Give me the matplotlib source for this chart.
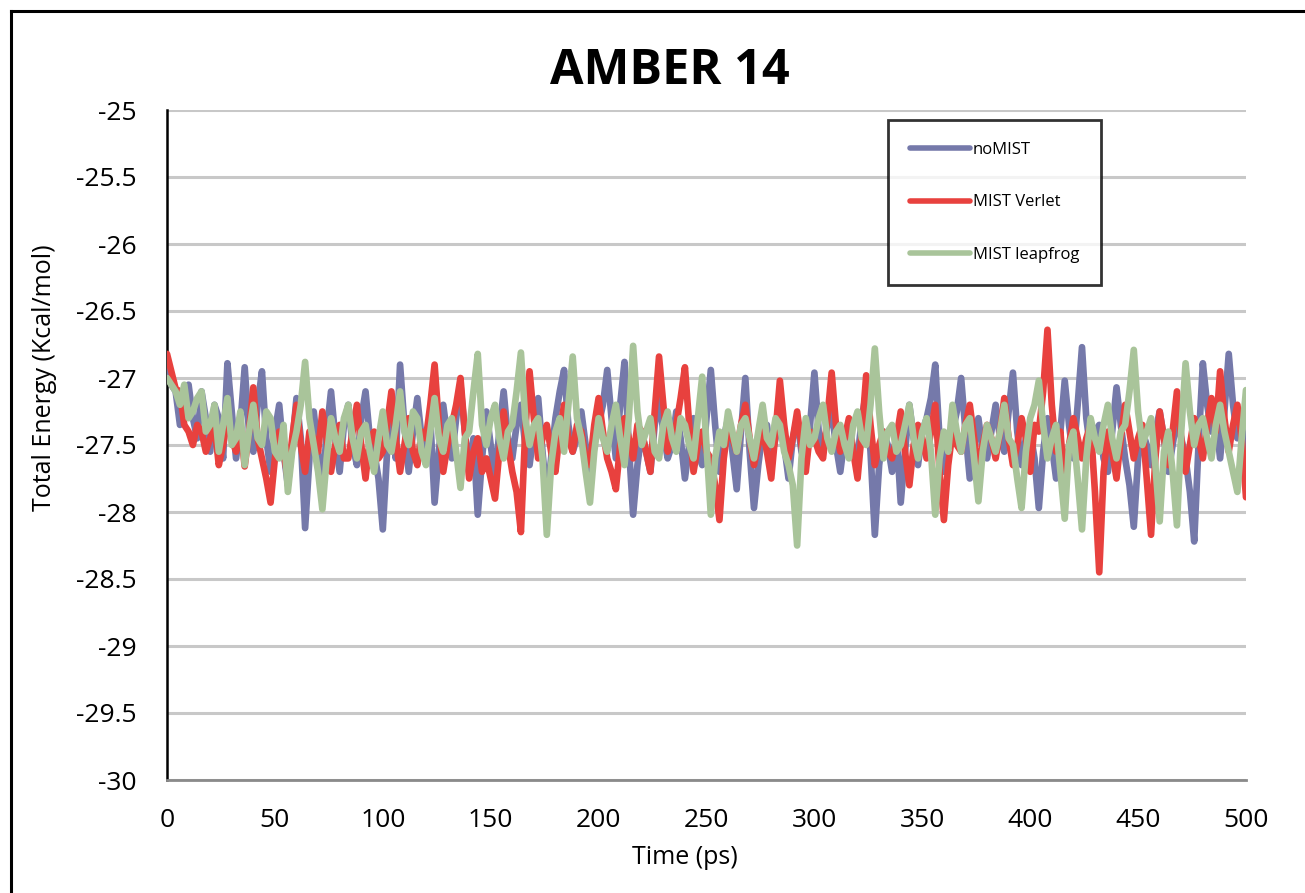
import numpy as np
import matplotlib
matplotlib.use("Agg")
import matplotlib.pyplot as plt
from matplotlib.lines import Line2D

plt.rcParams['font.family'] = ['Open Sans', 'DejaVu Sans']

# ---------------- data ----------------
title = "AMBER 14"
xlabel = "Time (ps)"
ylabel = "Total Energy (Kcal/mol)"
series_names = ["noMIST", "MIST Verlet", "MIST leapfrog"]
series_colors = ["#7579aa", "#e8413e", "#a9c49a"]

time_ps = np.arange(0, 501, 2)

nomist = [
    -26.85, -27.05, -27.10, -27.35, -27.15, -27.05, -27.30, -27.45, -27.10, -27.30,
    -27.55, -27.20, -27.30, -27.60, -26.89, -27.25, -27.60, -27.35, -26.92, -27.40,
    -27.55, -27.20, -26.95, -27.45, -27.70, -27.40, -27.20, -27.55, -27.80, -27.50,
    -27.15, -27.45, -28.12, -27.60, -27.25, -27.55, -27.85, -27.40, -27.10, -27.45,
    -27.70, -27.35, -27.20, -27.50, -27.65, -27.30, -27.10, -27.45, -27.55, -27.75,
    -28.13, -27.55, -27.30, -27.60, -26.90, -27.35, -27.70, -27.40, -27.15, -27.45,
    -27.60, -27.30, -27.93, -27.55, -27.20, -27.45, -27.60, -27.30, -27.05, -27.40,
    -27.70, -27.45, -28.02, -27.60, -27.25, -27.50, -27.75, -27.40, -27.10, -27.45,
    -27.60, -27.35, -27.20, -27.50, -27.65, -27.40, -27.15, -27.55, -27.90, -27.60,
    -27.30, -27.10, -26.94, -27.35, -27.55, -27.45, -27.25, -27.50, -27.70, -27.45,
    -27.35, -27.20, -26.94, -27.30, -27.60, -27.20, -26.88, -27.50, -28.02, -27.65,
    -27.40, -27.55, -27.70, -27.35, -27.15, -27.40, -27.60, -27.50, -27.25, -27.45,
    -27.75, -27.50, -27.30, -27.55, -27.65, -27.30, -26.94, -27.35, -27.70, -27.45,
    -27.30, -27.55, -27.83, -27.40, -27.00, -27.55, -27.97, -27.65, -27.40, -27.35,
    -27.60, -27.45, -27.20, -27.50, -27.75, -27.45, -27.30, -27.55, -27.65, -27.35,
    -26.96, -27.40, -27.55, -27.35, -27.25, -27.50, -27.70, -27.45, -27.35, -27.55,
    -27.60, -27.30, -27.10, -27.55, -28.17, -27.65, -27.40, -27.50, -27.70, -27.40,
    -27.93, -27.55, -27.20, -27.45, -27.65, -27.40, -27.30, -27.15, -26.90, -27.45,
    -27.70, -27.50, -27.40, -27.25, -27.00, -27.40, -27.75, -27.50, -27.30, -27.55,
    -27.60, -27.40, -27.20, -27.45, -27.55, -27.25, -26.96, -27.40, -27.65, -27.45,
    -27.40, -27.60, -27.97, -27.55, -27.30, -27.50, -27.75, -27.40, -27.02, -27.35,
    -27.60, -27.20, -26.77, -27.30, -27.55, -27.40, -27.35, -27.60, -27.70, -27.40,
    -27.07, -27.35, -27.60, -27.80, -28.11, -27.60, -27.40, -27.50, -27.65, -27.40,
    -27.25, -27.45, -27.70, -27.50, -27.30, -27.45, -27.60, -27.85, -28.22, -27.50,
    -26.89, -27.20, -27.40, -27.30, -27.60, -27.25, -26.82, -27.20, -27.45, -27.35,
    -27.57,
]

mist_verlet = [
    -26.82, -26.95, -27.08, -27.10, -27.35, -27.40, -27.50, -27.35, -27.40, -27.55,
    -27.45, -27.35, -27.65, -27.50, -27.30, -27.45, -27.55, -27.35, -27.66, -27.40,
    -27.07, -27.45, -27.60, -27.75, -27.93, -27.60, -27.40, -27.55, -27.75, -27.45,
    -27.20, -27.50, -27.70, -27.40, -27.45, -27.55, -27.25, -27.45, -27.70, -27.50,
    -27.35, -27.60, -27.60, -27.40, -27.20, -27.50, -27.75, -27.45, -27.40, -27.60,
    -27.55, -27.35, -27.10, -27.45, -27.70, -27.50, -27.30, -27.55, -27.65, -27.40,
    -27.45, -27.20, -26.90, -27.35, -27.70, -27.50, -27.35, -27.20, -27.00, -27.40,
    -27.75, -27.55, -27.45, -27.70, -27.60, -27.75, -27.90, -27.55, -27.25, -27.50,
    -27.70, -27.85, -28.15, -27.40, -26.95, -27.30, -27.60, -27.45, -27.35, -27.55,
    -27.70, -27.40, -27.20, -27.45, -27.55, -27.35, -27.40, -27.60, -27.65, -27.35,
    -27.15, -27.40, -27.60, -27.70, -27.83, -27.50, -27.30, -27.45, -27.60, -27.35,
    -27.40, -27.55, -27.70, -27.25, -26.84, -27.20, -27.55, -27.40, -27.35, -27.15,
    -26.92, -27.35, -27.70, -27.50, -27.40, -27.55, -27.60, -27.80, -28.06, -27.60,
    -27.35, -27.45, -27.55, -27.35, -27.20, -27.45, -27.65, -27.50, -27.40, -27.55,
    -27.75, -27.40, -27.02, -27.35, -27.60, -27.45, -27.25, -27.50, -27.70, -27.40,
    -27.45, -27.55, -27.60, -27.30, -26.96, -27.35, -27.55, -27.45, -27.30, -27.55,
    -27.75, -27.40, -26.98, -27.35, -27.65, -27.50, -27.40, -27.55, -27.60, -27.45,
    -27.25, -27.55, -27.80, -27.50, -27.35, -27.45, -27.60, -27.40, -27.20, -27.70,
    -28.06, -27.65, -27.40, -27.50, -27.55, -27.35, -27.20, -27.45, -27.70, -27.50,
    -27.35, -27.45, -27.60, -27.40, -27.15, -27.45, -27.65, -27.50, -27.30, -27.45,
    -27.70, -27.35, -27.40, -27.10, -26.64, -27.20, -27.55, -27.40, -27.80, -27.50,
    -27.30, -27.45, -27.60, -27.45, -27.35, -27.85, -28.45, -27.70, -27.40, -27.55,
    -27.75, -27.45, -27.20, -27.40, -27.60, -27.45, -27.35, -27.75, -28.17, -27.60,
    -27.25, -27.45, -27.65, -27.40, -27.10, -27.45, -27.70, -27.50, -27.30, -27.45,
    -27.60, -27.35, -27.15, -27.40, -26.95, -27.30, -27.55, -27.35, -27.20, -27.45,
    -27.89,
]

mist_leapfrog = [
    -27.00, -27.05, -27.10, -27.20, -27.05, -27.30, -27.25, -27.15, -27.10, -27.40,
    -27.35, -27.20, -27.55, -27.35, -27.15, -27.50, -27.45, -27.25, -27.65, -27.40,
    -27.20, -27.45, -27.50, -27.25, -27.30, -27.55, -27.60, -27.35, -27.85, -27.55,
    -27.40, -27.20, -26.88, -27.30, -27.50, -27.70, -27.98, -27.60, -27.30, -27.45,
    -27.55, -27.30, -27.20, -27.45, -27.60, -27.40, -27.35, -27.55, -27.70, -27.45,
    -27.25, -27.50, -27.55, -27.35, -27.10, -27.40, -27.50, -27.25, -27.30, -27.55,
    -27.65, -27.40, -27.15, -27.45, -27.55, -27.35, -27.30, -27.55, -27.82, -27.45,
    -27.40, -27.10, -26.82, -27.35, -27.50, -27.30, -27.20, -27.45, -27.60, -27.40,
    -27.35, -27.10, -26.81, -27.30, -27.50, -27.35, -27.30, -27.60, -28.17, -27.65,
    -27.40, -27.30, -27.55, -27.20, -26.84, -27.30, -27.45, -27.70, -27.93, -27.55,
    -27.30, -27.45, -27.55, -27.35, -27.20, -27.45, -27.65, -27.30, -26.76, -27.25,
    -27.50, -27.40, -27.30, -27.55, -27.60, -27.35, -27.25, -27.45, -27.55, -27.30,
    -27.35, -27.50, -27.60, -27.30, -26.99, -27.50, -28.02, -27.60, -27.40, -27.50,
    -27.25, -27.40, -27.55, -27.35, -27.30, -27.45, -27.60, -27.40, -27.20, -27.45,
    -27.50, -27.30, -27.35, -27.55, -27.65, -27.80, -28.25, -27.60, -27.30, -27.50,
    -27.45, -27.30, -27.20, -27.45, -27.55, -27.40, -27.35, -27.50, -27.60, -27.35,
    -27.25, -27.45, -27.50, -27.20, -26.78, -27.25, -27.60, -27.40, -27.35, -27.55,
    -27.50, -27.35, -27.20, -27.45, -27.60, -27.40, -27.30, -27.55, -28.02, -27.60,
    -27.40, -27.55, -27.20, -27.40, -27.55, -27.35, -27.30, -27.60, -27.92, -27.55,
    -27.35, -27.45, -27.55, -27.40, -27.20, -27.45, -27.50, -27.75, -27.97, -27.55,
    -27.30, -27.20, -27.02, -27.35, -27.60, -27.45, -27.35, -27.70, -28.05, -27.50,
    -27.40, -27.75, -28.13, -27.60, -27.30, -27.45, -27.55, -27.35, -27.20, -27.45,
    -27.60, -27.40, -27.35, -27.10, -26.79, -27.25, -27.50, -27.40, -27.30, -27.65,
    -28.07, -27.55, -27.40, -27.70, -28.10, -27.40, -26.89, -27.25, -27.50, -27.35,
    -27.30, -27.45, -27.60, -27.35, -27.20, -27.40, -27.55, -27.70, -27.85, -27.45,
    -27.09,
]

y_ticks = [-30, -29.5, -29, -28.5, -28, -27.5, -27, -26.5, -26, -25.5, -25]
x_ticks = [0, 50, 100, 150, 200, 250, 300, 350, 400, 450, 500]

# ---------------- figure ----------------
W, H = 1305, 893
fig = plt.figure(figsize=(W / 100, H / 100), dpi=100)
ax = fig.add_axes([167 / W, 1 - 780 / H, (1246 - 167) / W, (780 - 110) / H])

for vals, name, col in zip([nomist, mist_verlet, mist_leapfrog], series_names, series_colors):
    ax.plot(time_ps, vals, color=col, lw=4.8, label=name,
            solid_joinstyle='round', solid_capstyle='round', zorder=3)

ax.set_xlim(0, 500)
ax.set_ylim(-30, -25)
ax.set_yticks(y_ticks)
ax.set_yticklabels([f"{v:g}" for v in y_ticks])
ax.set_xticks(x_ticks)
ax.set_xticklabels([str(v) for v in x_ticks])
ax.tick_params(axis='both', length=0, labelsize=19, colors='black')
ax.tick_params(axis='y', pad=22)
ax.tick_params(axis='x', pad=20)

ax.grid(axis='y', color='#c8c8c8', lw=2.2, zorder=0)
ax.set_axisbelow(True)
for s in ['top', 'right']:
    ax.spines[s].set_visible(False)
ax.spines['left'].set_color('black')
ax.spines['left'].set_linewidth(1.8)
ax.spines['bottom'].set_color('#8a8a8a')
ax.spines['bottom'].set_linewidth(2.0)

# labels and title
fig.text(670 / W, 1 - 72 / H, title, ha='center', va='center',
         fontsize=35, fontweight='bold')
fig.text(685 / W, 1 - 857 / H, xlabel, ha='center', va='center', fontsize=18)
fig.text(45 / W, 1 - 378 / H, ylabel, ha='center', va='center',
         rotation=90, fontsize=18)

# legend
leg = ax.legend(loc='upper left', bbox_to_anchor=(888 / W, 1 - 120 / H),
                bbox_transform=fig.transFigure, fontsize=12,
                frameon=True, fancybox=False, handlelength=3.6,
                handletextpad=0.2, labelspacing=2.2, borderpad=1.3,
                borderaxespad=0)
leg.get_frame().set_edgecolor('black')
leg.get_frame().set_linewidth(2.0)
for lh in leg.get_lines():
    lh.set_linewidth(4)

# outer frame of the chart (extends past right / bottom edges)
fig.add_artist(Line2D([11 / W, 11 / W], [0, 1 - 11 / H], color='black', lw=2.2,
                      transform=fig.transFigure))
fig.add_artist(Line2D([11 / W, 1], [1 - 11 / H, 1 - 11 / H], color='black', lw=2.2,
                      transform=fig.transFigure))

fig.savefig("out.png", dpi=100)
